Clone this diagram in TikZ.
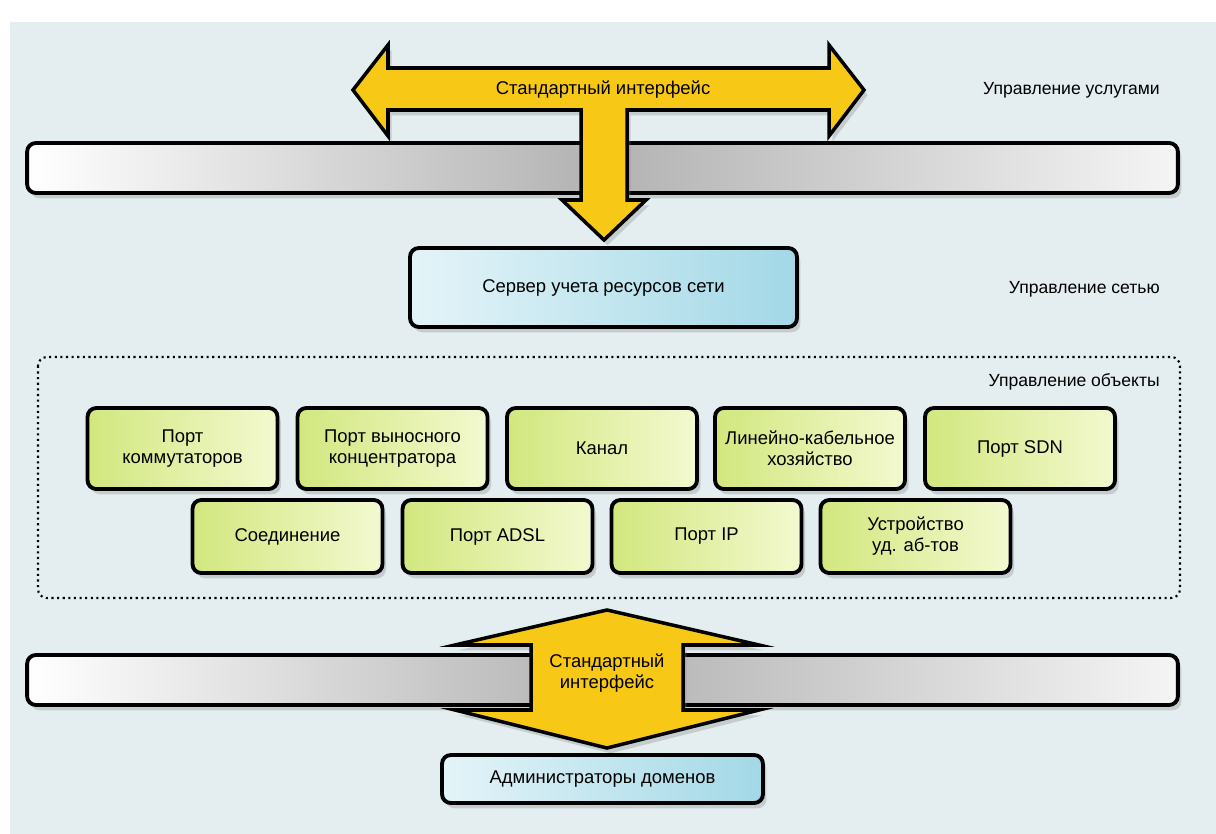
\documentclass[tikz,border=0pt]{standalone}
\usepackage{fontspec}
\setmainfont{Liberation Sans}
\usetikzlibrary{shadows}

\definecolor{bgblue}{RGB}{228,237,240}
\definecolor{arrowyellow}{RGB}{247,200,22}
\definecolor{barmid}{RGB}{178,178,178}
\definecolor{srvlight}{RGB}{228,244,248}
\definecolor{srvdark}{RGB}{163,216,231}
\definecolor{objdark}{RGB}{210,231,126}
\definecolor{objlight}{RGB}{243,249,208}

\tikzset{
    softshadow/.style={drop shadow={shadow xshift=2pt, shadow yshift=-3pt, opacity=0.3}},
    bar/.style={draw=black, line width=2.2pt, rounded corners=5pt,
        minimum width=23.02cm, minimum height=1cm, inner sep=0pt,
        left color=white, right color=white!96!black, middle color=barmid, softshadow},
    server/.style={draw=black, line width=2.2pt, rounded corners=5pt,
        left color=srvlight, right color=srvdark, softshadow,
        font=\fontsize{10.5}{12}\selectfont, align=center, inner sep=0pt},
    object/.style={draw=black, line width=2.2pt, rounded corners=5pt,
        left color=objdark, right color=objlight, softshadow,
        minimum width=3.8cm, inner sep=0pt,
        font=\fontsize{10.5}{12}\selectfont, align=center},
    level/.style={anchor=east, font=\fontsize{10}{12}\selectfont},
    bigarrow/.style={draw=black, line width=2pt, fill=arrowyellow, line join=miter},
}

\begin{document}
\begin{tikzpicture}[x=0.02cm, y=-0.02cm]
    \useasboundingbox (0,0) rectangle (1216,834);
    \fill[white] (0,0) rectangle (1216,834);
    \fill[bgblue] (10,22) rectangle (1216,834);

    % services
    \node[bar] (topbar) at (602.5,168) {};
    \draw[bigarrow, softshadow] (353,90) -- (388,45) -- (388,68) -- (829,68) -- (829,45)
        -- (864,90) -- (829,136) -- (829,110) -- (627,110) -- (627,200) -- (646,200)
        -- (604,240) -- (562,200) -- (581,200) -- (581,110) -- (388,110) -- (388,136) -- cycle;
    \node[font=\fontsize{10.5}{12}\selectfont] (topiface) at (603,90) {Стандартный интерфейс};
    \node[level] (lvlservice) at (1166,90) {Управление услугами};

    % network
    \node[server, minimum width=7.74cm, minimum height=1.58cm] (netserver) at (603.5,287.5) {Сервер учета ресурсов сети};
    \node[level] (lvlnetwork) at (1166,289) {Управление сетью};

    % objects
    \draw[line width=1.2pt, dotted, rounded corners=5pt] (38,357) rectangle (1180,598);
    \node[level] (lvlobject) at (1166,382) {Управление объекты};

    \node[object, minimum height=1.62cm] (swport) at (182.5,448.5) {Порт\\коммутаторов};
    \node[object, minimum height=1.62cm] (concport) at (392.5,448.5) {Порт выносного\\концентратора};
    \node[object, minimum height=1.62cm] (channel) at (602,448.5) {Канал};
    \node[object, minimum height=1.62cm] (cableplant) at (810,448.5) {Линейно-кабельное\\хозяйство};
    \node[object, minimum height=1.62cm] (sdnport) at (1020,448.5) {Порт SDN};

    \node[object, minimum height=1.46cm] (connection) at (287.5,536.5) {Соединение};
    \node[object, minimum height=1.46cm] (adslport) at (497.5,536.5) {Порт ADSL};
    \node[object, minimum height=1.46cm] (ipport) at (706.5,536.5) {Порт IP};
    \node[object, minimum height=1.46cm] (remdevice) at (915.5,536.5) {Устройство\\уд. аб-тов};

    % domains
    \node[bar] (botbar) at (602.5,680) {};
    \draw[bigarrow, softshadow] (607,610) -- (759,645) -- (683,645) -- (683,710) -- (759,710)
        -- (607,748) -- (455,710) -- (531,710) -- (531,645) -- (455,645) -- cycle;
    \node[align=center, font=\fontsize{10.5}{12}\selectfont] (botiface) at (607,673) {Стандартный\\интерфейс};

    \node[server, minimum width=6.42cm, minimum height=0.96cm] (admins) at (602.5,779) {Администраторы доменов};
\end{tikzpicture}
\end{document}
